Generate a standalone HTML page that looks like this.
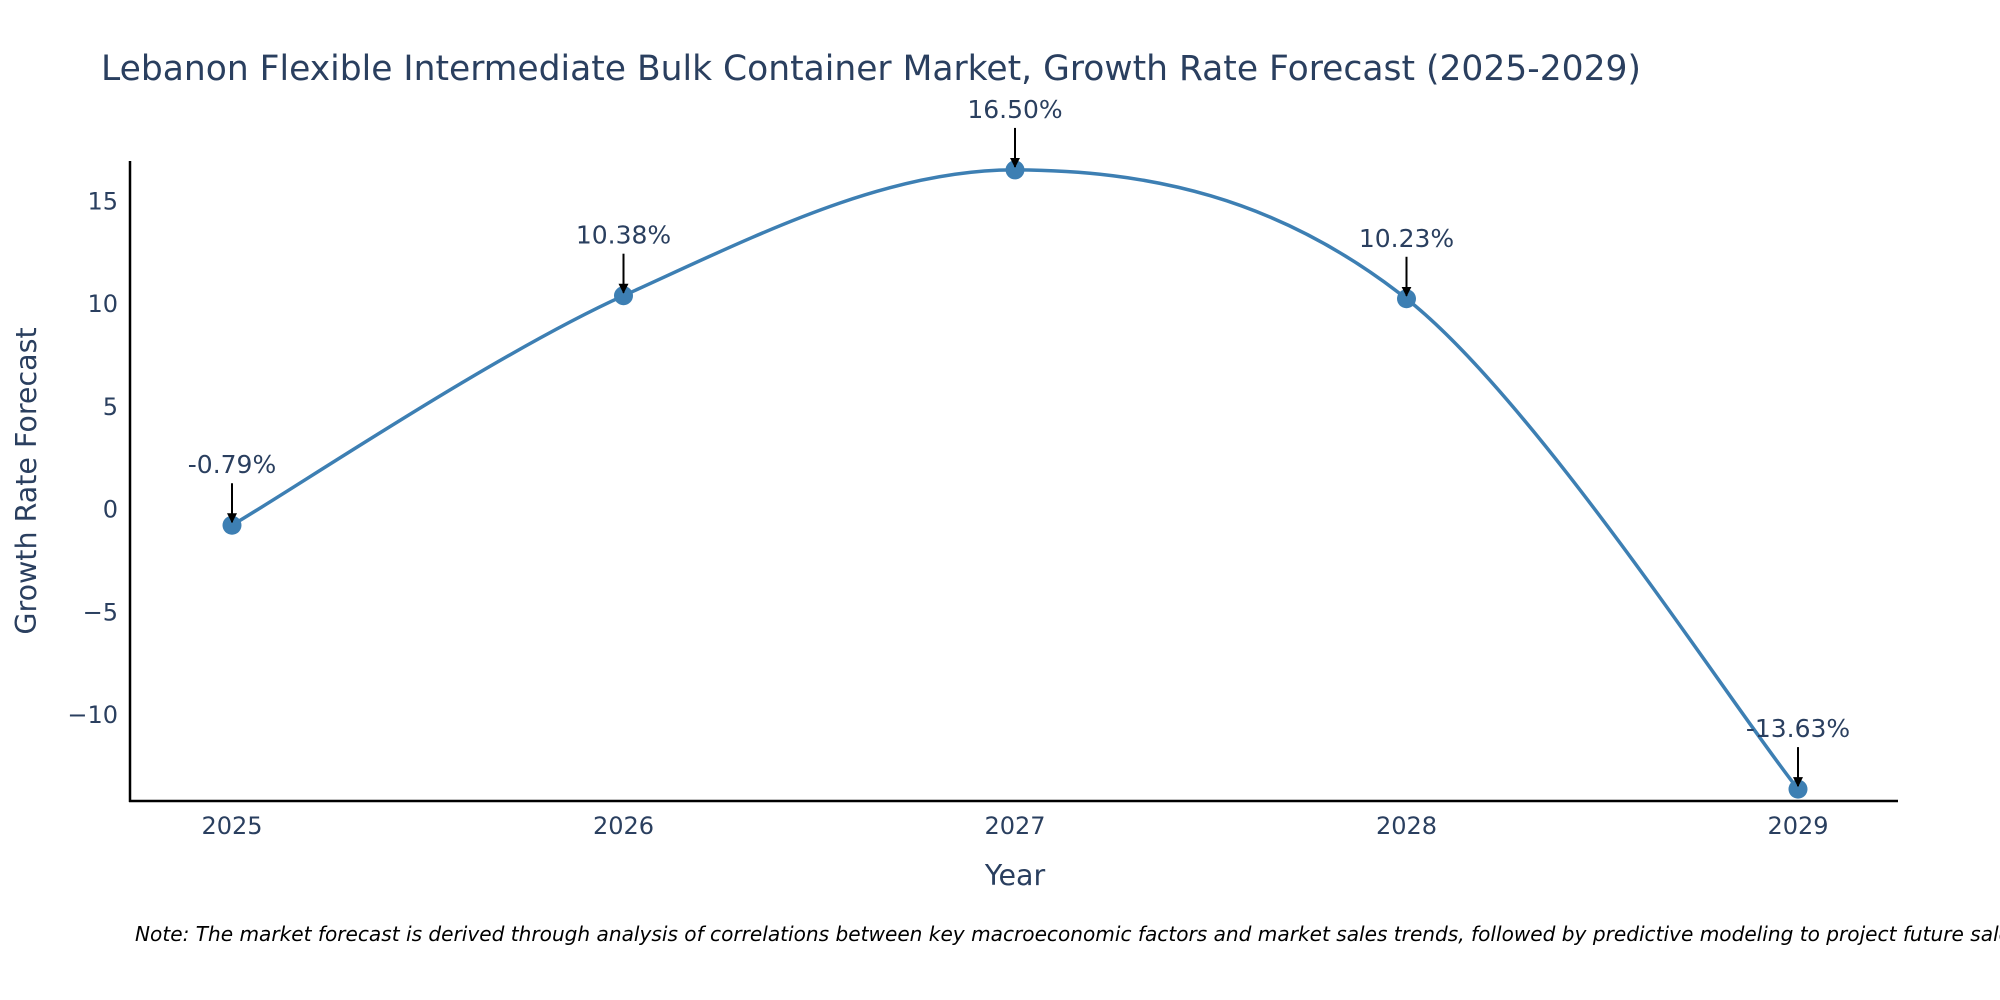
<!DOCTYPE html>
<html><head><meta charset="utf-8"><style>
body{margin:0;background:#fff;}
svg{display:block;font-family:"DejaVu Sans",sans-serif;}
</style></head><body>
<svg id="chart" width="2000" height="1000" viewBox="0 0 2000 1000" xmlns="http://www.w3.org/2000/svg">
<defs><marker id="ah" viewBox="0 0 10 10" refX="9" refY="5" markerWidth="5" markerHeight="5" orient="auto"><path d="M0,0 L10,5 L0,10 z" fill="#000"/></marker></defs>
<text x="101" y="80" font-size="34.5" fill="#2a3f5f">Lebanon Flexible Intermediate Bulk Container Market, Growth Rate Forecast (2025-2029)</text>
<g id="grid"></g>
<g id="series"></g>
<g id="annos"></g>
<line x1="130" y1="161" x2="130" y2="802" stroke="#000" stroke-width="2.5"/>
<line x1="129" y1="801" x2="1898" y2="801" stroke="#000" stroke-width="2.5"/>
<text x="1015" y="885" font-size="28.5" fill="#2a3f5f" text-anchor="middle">Year</text>
<text transform="translate(36,481) rotate(-90)" font-size="28.5" fill="#2a3f5f" text-anchor="middle">Growth Rate Forecast</text>
<text x="135" y="941" font-size="20.1" font-style="italic" fill="#000">Note: The market forecast is derived through analysis of correlations between key macroeconomic factors and market sales trends, followed by predictive modeling to project future sales.</text>
</svg>
<script>
const years=["2025","2026","2027","2028","2029"];
const values=[-0.79,10.38,16.50,10.23,-13.63];
const labels=["-0.79%","10.38%","16.50%","10.23%","-13.63%"];
const yTicks=[-10,-5,0,5,10,15];
const NS="http://www.w3.org/2000/svg";
const x0=232,dx=391.5;
const xs=i=>x0+i*dx;
const y=v=>509-v*20.55;
function mk(t,a,p){const e=document.createElementNS(NS,t);for(const k in a)e.setAttribute(k,a[k]);p.appendChild(e);return e;}
const grid=document.getElementById('grid');
yTicks.forEach(v=>{const t=mk('text',{x:118,y:y(v)+8.5,'font-size':24,fill:'#2a3f5f','text-anchor':'end'},grid);


t.textContent=v<0?'\u2212'+Math.abs(v):String(v);});
years.forEach((yr,i)=>{const t=mk('text',{x:xs(i),y:834,'font-size':24,fill:'#2a3f5f','text-anchor':'middle'},grid);


t.textContent=yr;});
const pts=values.map((v,i)=>[xs(i),y(v)]);
let d='M'+pts[0][0]+','+pts[0][1];
const s=0.5;
for(let i=0;i<pts.length-1;i++){const p0=pts[Math.max(i-1,0)],p1=pts[i],p2=pts[i+1],p3=pts[Math.min(i+2,pts.length-1)];
const c1=[p1[0]+(p2[0]-p0[0])*s/3,p1[1]+(p2[1]-p0[1])*s/3];
const c2=[p2[0]-(p3[0]-p1[0])*s/3,p2[1]-(p3[1]-p1[1])*s/3];
d+=` C${c1[0]},${c1[1]} ${c2[0]},${c2[1]} ${p2[0]},${p2[1]}`;}
const ser=document.getElementById('series');
const line=mk('path',{d:d,fill:'none',stroke:'#3d7fb3','stroke-width':3.5},ser);


pts.forEach(p=>{const c=mk('circle',{cx:p[0],cy:p[1],r:9.5,fill:'#3d7fb3'},ser);

});
const an=document.getElementById('annos');
pts.forEach((p,i)=>{const l=mk('line',{x1:p[0],y1:p[1]-42,x2:p[0],y2:p[1]-3,stroke:'#000','stroke-width':2,'marker-end':'url(#ah)'},an);


const t=mk('text',{x:p[0],y:p[1]-52,'font-size':25,fill:'#2a3f5f','text-anchor':'middle'},an);


t.textContent=labels[i];});
</script>
</body></html>
